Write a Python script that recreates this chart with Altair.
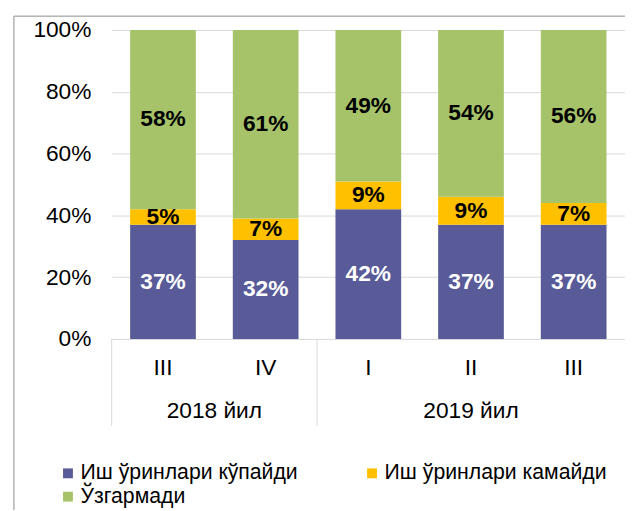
import altair as alt
import pandas as pd

years = ["2018", "2018", "2019", "2019", "2019"]
quarters = ["III", "IV", "I", "II", "III"]
year_labels = ["2018 йил", "2019 йил"]
series = ["Иш ўринлари кўпайди", "Иш ўринлари камайди", "Ўзгармади"]
increased = [37, 32, 42, 37, 37]
decreased = [5, 7, 9, 9, 7]
unchanged = [58, 61, 49, 54, 56]
colors = ["#595A98", "#FFC000", "#A6C36A"]

FONT = "Liberation Sans"
W, H = 520, 313

keys = [f"{y} {q}" for y, q in zip(years, quarters)]
rows = []
for i, k in enumerate(keys):
    for j, (s, vals) in enumerate(zip(series, [increased, decreased, unchanged])):
        rows.append({"key": k, "series": s, "order": j, "value": vals[i]})
df = pd.DataFrame(rows)

xscale = alt.Scale(paddingInner=0, paddingOuter=0)
xaxis = alt.Axis(labelExpr="split(datum.label, ' ')[1]", labelAngle=0, ticks=False,
                 domain=True, domainColor="#d9d9d9", labelFontSize=23, labelFont=FONT,
                 labelColor="black", labelPadding=18, title=None, grid=False)
yscale = alt.Scale(domain=[0, 100], nice=False)
yaxis = alt.Axis(values=[0, 20, 40, 60, 80, 100], labelExpr="datum.value + '%'",
                 domain=False, ticks=False, grid=True, gridColor="#d9d9d9",
                 labelFontSize=23, labelFont=FONT, labelColor="black", labelPadding=21, title=None)


def xenc(bp=0.5):
    return alt.X("key:N", sort=keys, scale=xscale, axis=xaxis, bandPosition=bp)


base = alt.Chart(df).transform_stack(
    stack="value", groupby=["key"], as_=["v0", "v1"], sort=[alt.SortField("order")]
).transform_calculate(
    mid="(datum.v0 + datum.v1) / 2", label="datum.value + '%'"
)

bars = base.mark_bar(width=alt.RelativeBandSize(0.64)).encode(
    x=alt.X("key:N", sort=keys, scale=xscale, axis=xaxis),
    y=alt.Y("v0:Q", scale=yscale, axis=yaxis),
    y2="v1:Q",
    color=alt.Color("series:N", scale=alt.Scale(domain=series, range=colors),
                    legend=alt.Legend(title=None, orient="none", legendX=-55, legendY=438,
                                      columns=2, direction="horizontal", columnPadding=64,
                                      rowPadding=1, symbolType="square", symbolSize=100,
                                      symbolStrokeWidth=0, labelFontSize=21.5, labelFont=FONT,
                                      labelColor="black", labelOffset=2, labelLimit=400,
                                      padding=0)),
)

texts = base.mark_text(font=FONT, fontSize=23, fontWeight="bold", baseline="middle").encode(
    x=alt.X("key:N", sort=keys, scale=xscale, axis=xaxis),
    y=alt.Y("mid:Q", scale=yscale, axis=yaxis),
    text="label:N",
    color=alt.when(alt.datum.order == 0).then(alt.value("white")).otherwise(alt.value("black")),
)

first_keys = [keys[i] for i in range(len(keys)) if i == 0 or years[i] != years[i - 1]]
seps = alt.Chart(pd.DataFrame({"key": first_keys})).mark_rule(color="#d9d9d9", strokeWidth=1).encode(
    x=xenc(0),
    y=alt.value(H), y2=alt.value(H + 88),
)

ylab1 = alt.Chart(pd.DataFrame({"key": [keys[0]], "t": [year_labels[0]]})).mark_text(
    font=FONT, fontSize=23, baseline="middle", color="black").encode(
    x=xenc(1), y=alt.value(H + 73), text="t:N")
ylab2 = alt.Chart(pd.DataFrame({"key": [keys[3]], "t": [year_labels[1]]})).mark_text(
    font=FONT, fontSize=23, baseline="middle", color="black").encode(
    x=xenc(0.5), y=alt.value(H + 73), text="t:N")

frame = alt.Chart(pd.DataFrame({"a": [0]})).mark_rect(
    fill="transparent", stroke="#8c8c8c", strokeWidth=1).encode(
    x=alt.value(-99), x2=alt.value(W + 40), y=alt.value(-14), y2=alt.value(H + 230))

chart = alt.layer(bars, texts, seps, ylab1, ylab2, frame).properties(
    width=W, height=H,
    autosize=alt.AutoSizeParams(type="none"),
    padding={"left": 105, "top": 19, "right": 0, "bottom": 170},
).configure_view(stroke=None)

chart.save("out.html", embed_options={"renderer": "svg", "actions": False})
